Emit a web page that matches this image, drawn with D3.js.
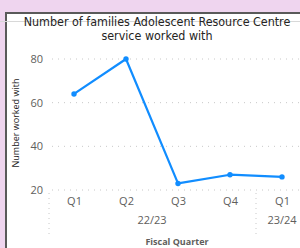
<!DOCTYPE html>
<html>
<head>
<meta charset="utf-8">
<script src="https://cdn.jsdelivr.net/npm/d3@7"></script>
<style>
  body { margin: 0; background: #efd5ef; }
  svg { display: block; }
</style>
</head>
<body>
<div id="chart"></div>
<script>
var svgWidth = 300;
var svgHeight = 248;

// data
var quarters = ["Q1", "Q2", "Q3", "Q4", "Q1"];
var years = ["22/23", "22/23", "22/23", "22/23", "23/24"];
var worked = [64, 80, 23, 27, 26];
var yTicks = [20, 40, 60, 80];

var svg = d3.select("#chart")
  .append("svg")
  .attr("width", svgWidth)
  .attr("height", svgHeight);

// card
svg.append("rect")
  .attr("x", 6).attr("y", 13)
  .attr("width", 300).attr("height", 240)
  .attr("fill", "#fff")
  .attr("stroke", "#5a5a5a")
  .attr("stroke-width", 2);

svg.append("line")
  .attr("x1", 0).attr("x2", svgWidth)
  .attr("y1", 21.5).attr("y2", 21.5)
  .attr("stroke", "#d8d8d8")
  .attr("stroke-width", 1);

svg.append("text")
  .attr("x", 157).attr("y", 25.5)
  .attr("text-anchor", "middle")
  .attr("font-family", "DejaVu Sans Condensed, DejaVu Sans")
  .attr("font-size", "12.4px")
  .attr("fill", "#252423")
  .text("Number of families Adolescent Resource Centre");

svg.append("text")
  .attr("x", 157).attr("y", 39.5)
  .attr("text-anchor", "middle")
  .attr("font-family", "DejaVu Sans Condensed, DejaVu Sans")
  .attr("font-size", "12.4px")
  .attr("fill", "#252423")
  .text("service worked with");

var x = d3.scalePoint()
  .domain(d3.range(worked.length))
  .range([74, 282]);

var y = d3.scaleLinear()
  .domain([20, 80])
  .range([190, 59]);

// gridlines
svg.append("g")
  .selectAll("line")
  .data(yTicks)
  .enter()
  .append("line")
  .attr("x1", 52).attr("x2", svgWidth)
  .attr("y1", d => y(d)).attr("y2", d => y(d))
  .attr("stroke", "#c8c8c8")
  .attr("stroke-width", 1)
  .attr("stroke-dasharray", "1,5");

var leftAxis = d3.axisLeft(y).tickValues(yTicks).tickSize(0).tickPadding(0);
var yAxis = svg.append("g")
  .attr("transform", "translate(43,0)")
  .call(leftAxis);
yAxis.select(".domain").remove();
yAxis.selectAll("text")
  .attr("font-family", "Open Sans")
  .attr("font-size", "11px")
  .attr("fill", "#605e5c");

svg.append("text")
  .attr("transform", "translate(18.5,123) rotate(-90)")
  .attr("text-anchor", "middle")
  .attr("font-family", "Open Sans")
  .attr("font-size", "9px")
  .attr("fill", "#252423")
  .text("Number worked with");

// x axis: quarter labels
var bottomAxis = d3.axisBottom(x).tickFormat(i => quarters[i]).tickSize(0).tickPadding(0);
var xAxis = svg.append("g")
  .attr("transform", "translate(0,197)")
  .call(bottomAxis);
xAxis.select(".domain").remove();
xAxis.selectAll("text")
  .attr("font-family", "Open Sans")
  .attr("font-size", "11px")
  .attr("fill", "#605e5c");

// year group labels
var groups = d3.groups(d3.range(worked.length), i => years[i]);
svg.append("g")
  .selectAll("text")
  .data(groups)
  .enter()
  .append("text")
  .attr("x", d => d3.mean(d[1], i => x(i)))
  .attr("y", 224)
  .attr("text-anchor", "middle")
  .attr("font-family", "Open Sans")
  .attr("font-size", "11px")
  .attr("fill", "#605e5c")
  .text(d => d[0]);

// group separators
var seps = [x(0) - x.step() / 2 + 1, x(3) + x.step() / 2];
svg.append("g")
  .selectAll("line")
  .data(seps)
  .enter()
  .append("line")
  .attr("x1", d => d).attr("x2", d => d)
  .attr("y1", 193).attr("y2", 234)
  .attr("stroke", "#c8c8c8")
  .attr("stroke-dasharray", "1,4");

svg.append("text")
  .attr("x", 177).attr("y", 245)
  .attr("text-anchor", "middle")
  .attr("font-family", "Open Sans")
  .attr("font-weight", "bold")
  .attr("font-size", "9px")
  .attr("fill", "#605e5c")
  .text("Fiscal Quarter");

// line
var line = d3.line()
  .x((d, i) => x(i))
  .y(d => y(d));

svg.append("path")
  .datum(worked)
  .attr("d", line)
  .attr("fill", "none")
  .attr("stroke", "#118dff")
  .attr("stroke-width", 2.2)
  .attr("stroke-linejoin", "round");

svg.append("g")
  .selectAll("circle")
  .data(worked)
  .enter()
  .append("circle")
  .attr("cx", (d, i) => x(i))
  .attr("cy", d => y(d))
  .attr("r", 2.7)
  .attr("fill", "#118dff");
</script>
</body>
</html>
